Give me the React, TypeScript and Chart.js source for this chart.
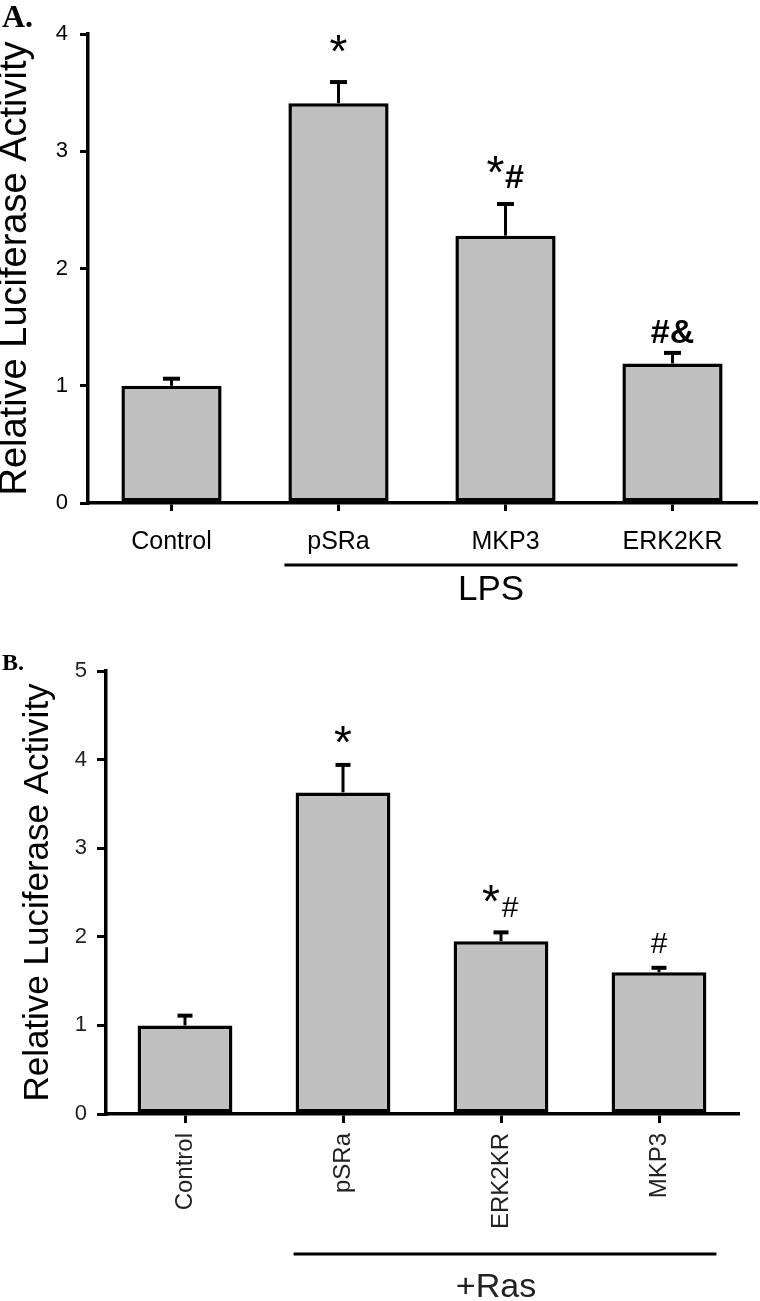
import React, { useEffect, useRef } from "react";
import { Chart, registerables } from "chart.js";

Chart.register(...registerables);

// ---------- Panel A data ----------
const categoriesA = ["Control", "pSRa", "MKP3", "ERK2KR"];
const valuesA = [1.0, 3.41, 2.28, 1.19];
const errorsA = [0.06, 0.18, 0.27, 0.09];
const marksA = ["", "*", "*#", "#&"];
const yTicksA = [0, 1, 2, 3, 4];
const groupLabelA = "LPS";

// ---------- Panel B data ----------
const categoriesB = ["Control", "pSRa", "ERK2KR", "MKP3"];
const valuesB = [1.0, 3.63, 1.95, 1.6];
const errorsB = [0.11, 0.31, 0.1, 0.05];
const marksB = ["", "*", "*#", "#"];
const yTicksB = [0, 1, 2, 3, 4, 5];
const groupLabelB = "+Ras";

const yTitle = "Relative Luciferase Activity";
const SANS = '"Liberation Sans", Arial, sans-serif';
const SERIF = '"Liberation Serif", "Times New Roman", serif';

type PanelCfg = {
  letter: string;
  letterFont: number;
  letterY: number;
  height: number;
  categories: string[];
  values: number[];
  errors: number[];
  marks: string[];
  yTicks: number[];
  groupLabel: string;
  yAxisWidth: number;
  xAxisHeight: number;
  padTop: number;
  padRight: number;
  titleSize: number;
  titleLH: number;
  titlePad: number;
  tickSize: number;
  tickPad: number;
  tickLen: number;
  catSize: number;
  catPad: number;
  rotation: number;
  textColor: string;
  markFont: string;
  starSize: number;
  markGaps: number[];
  starRise: number;
  capWidth: number;
  groupLineY: number;
  groupLeftPad: number;
  groupRightPad: number;
  groupLabelX: number;
  groupLabelY: number;
  groupLabelSize: number;
};

const panelA: PanelCfg = {
  letter: "A.",
  letterFont: 32,
  letterY: 3,
  height: 640,
  categories: categoriesA,
  values: valuesA,
  errors: errorsA,
  marks: marksA,
  yTicks: yTicksA,
  groupLabel: groupLabelA,
  yAxisWidth: 88,
  xAxisHeight: 137,
  padTop: 34,
  padRight: 4,
  titleSize: 38,
  titleLH: 0.8,
  titlePad: 0,
  tickSize: 22,
  tickPad: 12,
  tickLen: 8,
  catSize: 25,
  catPad: 16,
  rotation: 0,
  textColor: "#000",
  markFont: `bold 34px ${SANS}`,
  starSize: 46,
  markGaps: [0, 42, 16, 10],
  starRise: 26,
  capWidth: 17,
  groupLineY: 565,
  groupLeftPad: 4,
  groupRightPad: 15,
  groupLabelX: 491,
  groupLabelY: 590,
  groupLabelSize: 35,
};

const panelB: PanelCfg = {
  letter: "B.",
  letterFont: 24,
  letterY: 12,
  height: 661,
  categories: categoriesB,
  values: valuesB,
  errors: errorsB,
  marks: marksB,
  yTicks: yTicksB,
  groupLabel: groupLabelB,
  yAxisWidth: 106,
  xAxisHeight: 187,
  padTop: 31,
  padRight: 22,
  titleSize: 35,
  titleLH: 1.2,
  titlePad: 17,
  tickSize: 22,
  tickPad: 10,
  tickLen: 9,
  catSize: 24,
  catPad: 10,
  rotation: 90,
  textColor: "#222",
  markFont: `30px ${SANS}`,
  starSize: 46,
  markGaps: [0, 33, 15, 15],
  starRise: 27,
  capWidth: 15,
  groupLineY: 614,
  groupLeftPad: 2,
  groupRightPad: 10,
  groupLabelX: 496,
  groupLabelY: 648,
  groupLabelSize: 34,
};

function drawStar(ctx: CanvasRenderingContext2D, cfg: PanelCfg, x: number, cy: number) {
  ctx.save();
  ctx.font = `${cfg.starSize}px ${SANS}`;
  ctx.textAlign = "center";
  ctx.textBaseline = "alphabetic";
  ctx.fillText("*", x, cy + cfg.starSize * 0.575);
  ctx.restore();
}

function makeExtrasPlugin(cfg: PanelCfg) {
  return {
    id: "extras",
    afterDatasetsDraw(chart: any) {
      const ctx = chart.ctx;
      const meta = chart.getDatasetMeta(0);
      const yScale = chart.scales.y;
      ctx.save();
      ctx.strokeStyle = "#000";
      ctx.lineCap = "butt";
      meta.data.forEach((el: any, i: number) => {
        const v = cfg.values[i];
        const e = cfg.errors[i];
        const yTop = yScale.getPixelForValue(v);
        const yErr = yScale.getPixelForValue(v + e);
        ctx.lineWidth = 3;
        ctx.beginPath();
        ctx.moveTo(el.x, yTop);
        ctx.lineTo(el.x, yErr);
        ctx.stroke();
        ctx.lineWidth = 4;
        ctx.beginPath();
        ctx.moveTo(el.x - cfg.capWidth / 2, yErr);
        ctx.lineTo(el.x + cfg.capWidth / 2, yErr);
        ctx.stroke();
      });
      ctx.restore();
    },
    afterDraw(chart: any) {
      const ctx = chart.ctx;
      const meta = chart.getDatasetMeta(0);
      const yScale = chart.scales.y;
      ctx.save();
      // significance marks
      ctx.fillStyle = "#000";
      meta.data.forEach((el: any, i: number) => {
        const mark = cfg.marks[i];
        if (!mark) return;
        const yErr = yScale.getPixelForValue(cfg.values[i] + cfg.errors[i]);
        const gap = cfg.markGaps[i];
        if (mark === "*") {
          drawStar(ctx, cfg, el.x, yErr - gap);
        } else if (mark[0] === "*") {
          const base = yErr - gap;
          drawStar(ctx, cfg, el.x - 10, base - cfg.starRise);
          ctx.font = cfg.markFont;
          ctx.textAlign = "center";
          ctx.textBaseline = "alphabetic";
          ctx.fillText(mark.slice(1), el.x + 9, base);
        } else {
          ctx.font = cfg.markFont;
          ctx.textAlign = "center";
          ctx.textBaseline = "alphabetic";
          ctx.fillText(mark, el.x, yErr - gap);
        }
      });
      // group line + label
      const first: any = meta.data[1];
      const last: any = meta.data[3];
      const x1 = first.x - first.width / 2 - cfg.groupLeftPad;
      const x2 = last.x + last.width / 2 + cfg.groupRightPad;
      ctx.strokeStyle = "#000";
      ctx.lineWidth = 3;
      ctx.beginPath();
      ctx.moveTo(x1, cfg.groupLineY);
      ctx.lineTo(x2, cfg.groupLineY);
      ctx.stroke();
      ctx.fillStyle = cfg.textColor;
      ctx.font = `${cfg.groupLabelSize}px ${SANS}`;
      ctx.textAlign = "center";
      ctx.textBaseline = "middle";
      ctx.fillText(cfg.groupLabel, cfg.groupLabelX, cfg.groupLabelY);
      // panel letter
      ctx.fillStyle = "#000";
      ctx.font = `bold ${cfg.letterFont}px ${SERIF}`;
      ctx.textAlign = "left";
      ctx.textBaseline = "top";
      ctx.fillText(cfg.letter, 2, cfg.letterY);
      ctx.restore();
    },
  };
}

function Panel({ cfg }: { cfg: PanelCfg }) {
  const ref = useRef<HTMLCanvasElement | null>(null);
  useEffect(() => {
    if (!ref.current) return;
    const chart = new Chart(ref.current, {
      type: "bar",
      data: {
        labels: cfg.categories,
        datasets: [
          {
            data: cfg.values,
            backgroundColor: "#c0c0c0",
            borderColor: "#000",
            borderWidth: 3.5,
            borderSkipped: false,
            barPercentage: 1,
            categoryPercentage: 0.6,
          },
        ],
      },
      options: {
        responsive: false,
        animation: false,
        devicePixelRatio: 1,
        layout: { padding: { top: cfg.padTop, right: cfg.padRight, left: 0, bottom: 0 } },
        plugins: { legend: { display: false }, tooltip: { enabled: false } },
        scales: {
          x: {
            grid: {
              offset: false,
              drawOnChartArea: false,
              drawTicks: true,
              tickLength: cfg.tickLen,
              lineWidth: 3,
              color: "#000",
            },
            border: { display: true, width: 3.5, color: "#000" },
            ticks: {
              font: { family: SANS, size: cfg.catSize },
              color: cfg.textColor,
              padding: cfg.catPad,
              minRotation: cfg.rotation,
              maxRotation: cfg.rotation,
              autoSkip: false,
            },
            afterFit: (s: any) => {
              s.height = cfg.xAxisHeight;
            },
          },
          y: {
            min: 0,
            max: cfg.yTicks[cfg.yTicks.length - 1],
            afterBuildTicks: (s: any) => {
              s.ticks = cfg.yTicks.map((v) => ({ value: v }));
            },
            afterFit: (s: any) => {
              s.width = cfg.yAxisWidth;
            },
            grid: {
              drawOnChartArea: false,
              drawTicks: true,
              tickLength: cfg.tickLen,
              lineWidth: 3,
              color: "#000",
            },
            border: { display: true, width: 3.5, color: "#000" },
            ticks: {
              font: { family: SANS, size: cfg.tickSize },
              color: cfg.textColor,
              padding: cfg.tickPad,
            },
            title: {
              display: true,
              text: yTitle,
              font: { family: SANS, size: cfg.titleSize, lineHeight: cfg.titleLH },
              color: "#000",
              padding: { top: cfg.titlePad, bottom: 0 },
            },
          },
        },
      },
      plugins: [makeExtrasPlugin(cfg)],
    });
    return () => chart.destroy();
  }, [cfg]);
  return (
    <canvas
      ref={ref}
      width={760}
      height={cfg.height}
      style={{ display: "block", width: 760, height: cfg.height }}
    />
  );
}

export default function App() {
  return (
    <div
      style={{
        position: "absolute",
        left: 0,
        top: 0,
        width: 760,
        height: 1301,
        background: "#fff",
      }}
    >
      <Panel cfg={panelA} />
      <Panel cfg={panelB} />
    </div>
  );
}
